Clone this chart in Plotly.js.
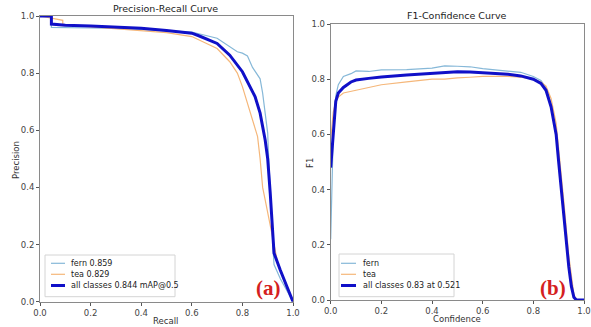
<!DOCTYPE html>
<html><head><meta charset="utf-8">
<script src="https://cdn.plot.ly/plotly-3.0.1.min.js"></script>
<style>html,body{margin:0;padding:0;background:#fff}#c{width:591px;height:327px}</style>
</head><body><div id="c"></div>
<script>
// Precision-Recall data
const prFernR = [0,0.045,0.045,0.1,0.2,0.3,0.4,0.5,0.6,0.7,0.75,0.78,0.8,0.82,0.84,0.87,0.88,0.89,0.9,0.903,0.906,0.91,0.915,0.92,0.925,0.95,1.0];
const prFernP = [1,1,0.96,0.96,0.958,0.957,0.953,0.947,0.944,0.922,0.893,0.875,0.87,0.86,0.82,0.78,0.73,0.66,0.59,0.52,0.45,0.38,0.3,0.2,0.13,0.08,0.0];
const prTeaR = [0,0.09,0.09,0.2,0.3,0.4,0.5,0.6,0.7,0.75,0.78,0.8,0.82,0.84,0.86,0.87,0.88,0.89,0.9,0.91,0.92,0.94,0.97,1.0];
const prTeaP = [1,0.985,0.97,0.962,0.957,0.95,0.942,0.928,0.886,0.84,0.80,0.753,0.695,0.636,0.578,0.5,0.4,0.356,0.31,0.26,0.216,0.134,0.06,0.0];
const prAllR = [0,0.045,0.045,0.1,0.2,0.3,0.4,0.5,0.6,0.63,0.7,0.75,0.8,0.85,0.87,0.89,0.9,0.91,0.92,0.925,0.95,1.0];
const prAllP = [1,1,0.972,0.968,0.965,0.961,0.957,0.949,0.94,0.93,0.904,0.863,0.805,0.718,0.66,0.566,0.5,0.38,0.24,0.17,0.11,0.0];
// F1-Confidence data
const f1Conf = [0,0.01,0.02,0.03,0.05,0.08,0.1,0.15,0.2,0.3,0.4,0.45,0.5,0.55,0.6,0.7,0.75,0.8,0.83,0.85,0.87,0.89,0.9,0.92,0.94,0.95,0.96,0.97,1.0];
const f1Fern = [0.22,0.6,0.74,0.78,0.81,0.82,0.83,0.828,0.834,0.835,0.84,0.848,0.847,0.845,0.838,0.83,0.825,0.81,0.795,0.77,0.71,0.61,0.5,0.3,0.12,0.05,0.01,0,0];
const f1Tea  = [0.58,0.68,0.72,0.735,0.75,0.755,0.76,0.77,0.78,0.79,0.8,0.8,0.805,0.807,0.81,0.81,0.807,0.80,0.79,0.775,0.73,0.64,0.55,0.36,0.16,0.08,0.02,0,0];
const f1All  = [0.48,0.62,0.72,0.75,0.77,0.79,0.797,0.803,0.808,0.815,0.82,0.822,0.827,0.826,0.823,0.818,0.812,0.80,0.785,0.76,0.70,0.60,0.50,0.30,0.12,0.05,0.01,0,0];
const tickVals = [0,0.2,0.4,0.6,0.8,1.0];
const tickText = ['0.0','0.2','0.4','0.6','0.8','1.0'];
const prNames = ['fern 0.859','tea 0.829','all classes 0.844 mAP@0.5'];
const f1Names = ['fern','tea','all classes 0.83 at 0.521'];

const cFern = '#86b8d8', cTea = '#f5b77a', cAll = '#1010c8';
const colors = [cFern,cTea,cAll], widths=[1.2,1.2,3];
const traces = [
  {x:prFernR,y:prFernP,mode:'lines',name:prNames[0],line:{color:cFern,width:1.2},xaxis:'x',yaxis:'y'},
  {x:prTeaR,y:prTeaP,mode:'lines',name:prNames[1],line:{color:cTea,width:1.2},xaxis:'x',yaxis:'y'},
  {x:prAllR,y:prAllP,mode:'lines',name:prNames[2],line:{color:cAll,width:3},xaxis:'x',yaxis:'y'},
  {x:f1Conf,y:f1Fern,mode:'lines',name:f1Names[0],line:{color:cFern,width:1.2},xaxis:'x2',yaxis:'y2'},
  {x:f1Conf,y:f1Tea,mode:'lines',name:f1Names[1],line:{color:cTea,width:1.2},xaxis:'x2',yaxis:'y2'},
  {x:f1Conf,y:f1All,mode:'lines',name:f1Names[2],line:{color:cAll,width:3},xaxis:'x2',yaxis:'y2'}
];
const W=591,H=327;
function ax(d,anchor){
  return {domain:d,anchor:anchor,range:[0,1],tickvals:tickVals,ticktext:tickText,showgrid:false,zeroline:false,
    showline:true,mirror:true,linecolor:'#8a8a8a',linewidth:1,ticks:'outside',ticklen:3,tickcolor:'#555',
    tickfont:{size:8.5,color:'#444'}};
}
const px = v=>v/W, py = v=>1-v/H;
const ann = [], shapes = [];
function txt(t,x,y,o){ann.push(Object.assign({text:t,x:px(x),y:py(y),xref:'paper',yref:'paper',showarrow:false,xanchor:'center',yanchor:'middle'},o));}
txt('Precision-Recall Curve',166,8,{font:{size:9.5,color:'#222'}});
txt('F1-Confidence Curve',457,16,{font:{size:9.5,color:'#222'}});
txt('Recall',166,321,{font:{size:8.5,color:'#333'}});
txt('Confidence',457,319,{font:{size:8.5,color:'#333'}});
txt('Precision',16,160,{textangle:-90,font:{size:8.5,color:'#333'}});
txt('F1',310,163,{textangle:-90,font:{size:8.5,color:'#333'}});
txt('<b>(a)</b>',268,288,{font:{family:'Liberation Serif, serif',size:21,color:'#d42020'}});
txt('<b>(b)</b>',553,288,{font:{family:'Liberation Serif, serif',size:21,color:'#d42020'}});
// legend boxes
function legend(x0,x1,y0,y1,lx0,lx1,tx,names){
  shapes.push({type:'rect',xref:'paper',yref:'paper',x0:px(x0),x1:px(x1),y0:py(y1),y1:py(y0),line:{color:'#d4d4d4',width:1},fillcolor:'rgba(255,255,255,0.9)',layer:'above'});
  const rows=[263.3,274.3,285.5];
  names.forEach((n,i)=>{
    shapes.push({type:'line',xref:'paper',yref:'paper',x0:px(lx0),x1:px(lx1),y0:py(rows[i]),y1:py(rows[i]),line:{color:colors[i],width:widths[i]},layer:'above'});
    txt(n,tx,rows[i],{xanchor:'left',font:{size:8,color:'#222'}});
  });
}
legend(45,175,255,296.7,51,65,69,prNames);
legend(339,454,254,296.7,341,356,361,f1Names);
const layout = {
  width:W,height:H,margin:{l:0,r:0,t:0,b:0},paper_bgcolor:'#fff',plot_bgcolor:'#fff',showlegend:false,
  font:{family:'DejaVu Sans, sans-serif'},
  xaxis:ax([40/W,293/W],'y'),
  yaxis:ax([1-301.7/H,1-16/H],'x'),
  xaxis2:ax([330.7/W,584/W],'y2'),
  yaxis2:ax([1-300/H,1-24/H],'x2'),
  annotations:ann, shapes:shapes
};
Plotly.newPlot('c',traces,layout,{staticPlot:true,displayModeBar:false});
</script></body></html>
